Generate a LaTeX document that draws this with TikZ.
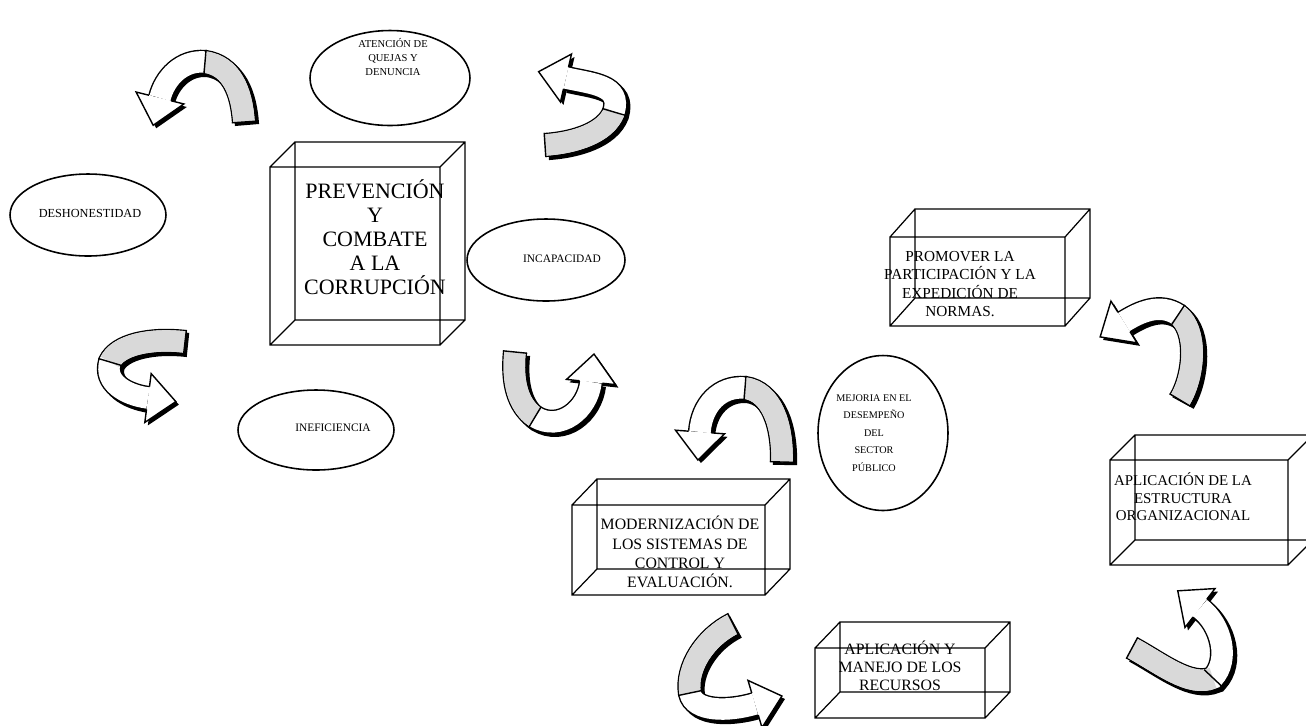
\documentclass[tikz,border=0pt]{standalone}
\usepackage{fontspec}
\setmainfont{Liberation Serif}
\usetikzlibrary{calc,shapes.geometric}

\newcommand{\ribbonarrow}[7]{%
  \begin{scope}[shift={(3,3)}]
    \draw[black,line width=13.8pt] (#1) .. controls (#2) and (#3) .. (#4)
      .. controls (#5) and (#6) .. (#7);
    \fill[black] ($(#7)!6.9pt!90:(#6)$) -- ($(#7)!14pt!90:(#6)$) -- ($(#7)!16pt!180:(#6)$)
      -- ($(#7)!14pt!-90:(#6)$) -- ($(#7)!6.9pt!-90:(#6)$) -- cycle;
  \end{scope}
  \draw[black,line width=13.8pt] (#1) .. controls (#2) and (#3) .. (#4)
    .. controls (#5) and (#6) .. (#7);
  \draw[white,line width=12.2pt] (#1) .. controls (#2) and (#3) .. (#4)
    .. controls (#5) and (#6) .. (#7);
  \draw[tailshade,line width=12.2pt] (#1) .. controls (#2) and (#3) .. (#4);
  \draw[line width=0.8pt] ($(#1)!6.9pt!90:(#2)$) -- ($(#1)!6.9pt!-90:(#2)$);
  \draw[line width=0.8pt] ($(#4)!6.9pt!90:(#5)$) -- ($(#4)!6.9pt!-90:(#5)$);
  \filldraw[fill=white,line width=0.8pt,line join=miter]
    ($(#7)!6.5pt!90:(#6)$) -- ($(#7)!14pt!90:(#6)$) -- ($(#7)!16pt!180:(#6)$)
    -- ($(#7)!14pt!-90:(#6)$) -- ($(#7)!6.5pt!-90:(#6)$);
}

\newcommand{\prism}[3]{%
  \coordinate (pa) at (#1);
  \coordinate (pb) at (#2);
  \coordinate (pc) at ($(pa)+(#3)$);
  \coordinate (pd) at ($(pb)+(#3)$);
  \draw[prismline] (pa) rectangle (pb) (pc) rectangle (pd)
    (pa) -- (pc) (pb) -- (pd) (pa |- pb) -- (pc |- pd) (pb |- pa) -- (pd |- pc);
}

\begin{document}
\begin{tikzpicture}[x=0.02cm,y=-0.02cm,
    tailshade/.style={draw=gray!30},
    prismline/.style={line width=0.7pt},
    oval/.style={draw,ellipse,line width=0.9pt,inner sep=0pt},
    tag/.style={font=\fontsize{6.5}{8}\selectfont,align=center,inner sep=0pt},
    boxtag/.style={font=\fontsize{9}{10.4}\selectfont,align=center,inner sep=0pt}]
  \useasboundingbox (0,0) rectangle (1306,725);

  % left group
  \node[oval,minimum width=3.2cm,minimum height=1.9cm] (quejas) at (390,78) {};
  \node[tag,font=\fontsize{6}{8}\selectfont] (tquejas) at (393,57) {ATENCIÓN DE\\QUEJAS Y\\DENUNCIA};
  \node[oval,minimum width=3.12cm,minimum height=1.64cm] (deshon) at (88,215) {};
  \node[tag,font=\fontsize{7}{8}\selectfont] (tdeshon) at (90,213) {DESHONESTIDAD};
  \node[oval,minimum width=3.16cm,minimum height=1.64cm] (incap) at (546,260) {};
  \node[tag] (tincap) at (562,259) {INCAPACIDAD};
  \node[oval,minimum width=3.12cm,minimum height=1.6cm] (inefic) at (316,430) {};
  \node[tag] (tinefic) at (333,428) {INEFICIENCIA};

  \prism{270,167}{440,345}{25,-25}
  \node[align=center,inner sep=0pt,font=\fontsize{12.5}{13.6}\selectfont] (prevencion) at (375,237)
    {PREVENCIÓN\\Y\\COMBATE\\A LA\\CORRUPCIÓN};

  \ribbonarrow{244,122}{242,92}{232,66}{205,62}{182,60}{165,78}{160,98}
  \ribbonarrow{545,145}{575,143}{606,133}{614,112}{622,85}{592,84}{566,78}
  \ribbonarrow{185,342}{150,338}{118,345}{110,362}{104,382}{125,395}{148,398}
  \ribbonarrow{515,352}{512,382}{518,405}{535,417}{560,432}{588,410}{591,382}

  % right group
  \node[oval,minimum width=2.6cm,minimum height=3.1cm] (mejoria) at (883,433) {};
  \node[tag,font=\fontsize{5.8}{10}\selectfont] (tmejoria) at (874,433)
    {MEJORIA EN EL\\DESEMPEÑO\\DEL\\SECTOR\\PÚBLICO};

  \prism{890,237}{1065,326}{25,-28}
  \node[boxtag,font=\fontsize{8.7}{10.3}\selectfont] (promover) at (960,284)
    {PROMOVER LA\\PARTICIPACIÓN Y LA\\EXPEDICIÓN DE\\NORMAS.};
  \prism{1110,460}{1288,565}{25,-25}
  \node[boxtag,font=\fontsize{8.5}{9.9}\selectfont] (estructura) at (1183,497)
    {APLICACIÓN DE LA\\ESTRUCTURA\\ORGANIZACIONAL};
  \prism{572,505}{765,595}{25,-26}
  \node[boxtag,font=\fontsize{9}{11}\selectfont] (moderniza) at (680,552)
    {MODERNIZACIÓN DE\\LOS SISTEMAS DE\\CONTROL Y\\EVALUACIÓN.};
  \prism{815,648}{985,718}{25,-26}
  \node[boxtag] (recursos) at (900,666)
    {APLICACIÓN Y\\MANEJO DE LOS\\RECURSOS};

  \ribbonarrow{782,462}{783,425}{772,392}{745,388}{720,386}{702,405}{700,432}
  \ribbonarrow{1180,400}{1195,375}{1198,330}{1178,315}{1160,303}{1140,312}{1124,322}
  \ribbonarrow{1132,648}{1160,663}{1190,688}{1213,678}{1230,660}{1222,625}{1200,608}
  \ribbonarrow{733,624}{705,638}{686,668}{690,693}{694,712}{728,712}{755,704}
\end{tikzpicture}
\end{document}
